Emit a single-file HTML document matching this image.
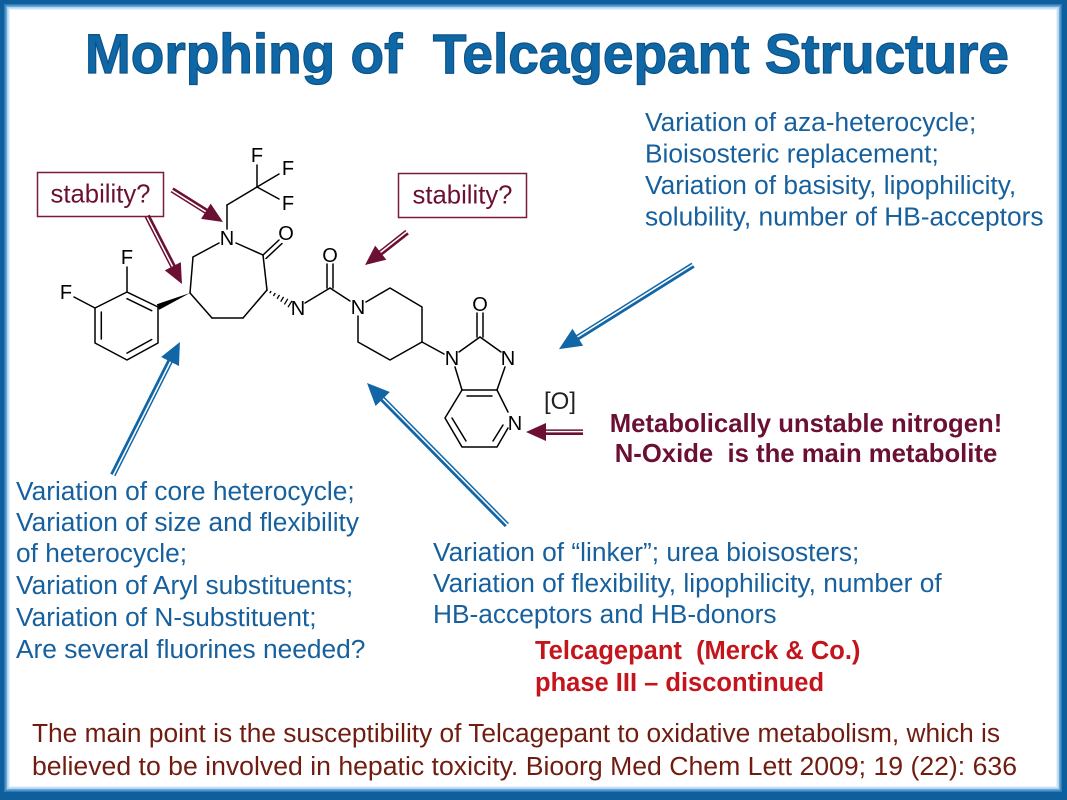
<!DOCTYPE html>
<html>
<head>
<meta charset="utf-8">
<style>
  html,body{margin:0;padding:0;background:#fff;}
  svg{display:block;}
  text{font-family:"Liberation Sans", Arial, sans-serif; white-space:pre;}
</style>
</head>
<body>
<svg width="1067" height="800" viewBox="0 0 1067 800" xmlns="http://www.w3.org/2000/svg" xml:space="preserve">
  <!-- frame -->
  <rect x="0" y="0" width="1067" height="800" fill="#0f5f9c"/>
  <rect x="4" y="4" width="1058" height="788" fill="#2f7cbc"/>
  <rect x="5.5" y="5.5" width="1055" height="785" fill="#6aa6d6"/>
  <rect x="7" y="7" width="1052" height="782" fill="#b3d4ee"/>
  <rect x="8.5" y="8.5" width="1049" height="779" fill="#e6f1fa"/>
  <rect x="10" y="10" width="1046" height="776" fill="#ffffff"/>

  <!-- title -->
  <text x="85" y="73" font-size="56" font-weight="bold" fill="#0f67a6" stroke="#0b5288" stroke-width="1.2" textLength="924" lengthAdjust="spacingAndGlyphs">Morphing of  Telcagepant Structure</text>

  <!-- right blue block -->
  <g font-size="26.3" fill="#17609e">
    <text x="645" y="131">Variation of aza-heterocycle;</text>
    <text x="645" y="162.5">Bioisosteric replacement;</text>
    <text x="645" y="194">Variation of basisity, lipophilicity,</text>
    <text x="645" y="225.5">solubility, number of HB-acceptors</text>
  </g>

  <!-- left blue block -->
  <g font-size="26.3" fill="#17609e">
    <text x="16" y="500">Variation of core heterocycle;</text>
    <text x="16" y="531">Variation of size and flexibility</text>
    <text x="16" y="562">of heterocycle;</text>
    <text x="16" y="594">Variation of Aryl substituents;</text>
    <text x="16" y="626">Variation of N-substituent;</text>
    <text x="16" y="658">Are several fluorines needed?</text>
  </g>

  <!-- middle blue block -->
  <g font-size="26.3" fill="#17609e">
    <text x="433" y="561">Variation of “linker”; urea bioisosters;</text>
    <text x="433" y="592">Variation of flexibility, lipophilicity, number of</text>
    <text x="433" y="623">HB-acceptors and HB-donors</text>
  </g>

  <!-- red -->
  <g font-size="25.5" font-weight="bold" fill="#c4141c">
    <text x="535" y="659">Telcagepant  (Merck &amp; Co.)</text>
    <text x="535" y="691">phase III – discontinued</text>
  </g>

  <!-- maroon bold -->
  <g font-size="25.7" font-weight="bold" fill="#6b1034" text-anchor="middle">
    <text x="806" y="432">Metabolically unstable nitrogen!</text>
    <text x="806" y="462">N-Oxide  is the main metabolite</text>
  </g>

  <!-- bottom text -->
  <g font-size="26.3" fill="#701c10">
    <text x="32" y="742" textLength="968" lengthAdjust="spacingAndGlyphs">The main point is the susceptibility of Telcagepant to oxidative metabolism, which is</text>
    <text x="32" y="775" textLength="985" lengthAdjust="spacingAndGlyphs">believed to be involved in hepatic toxicity. Bioorg Med Chem Lett 2009; 19 (22): 636</text>
  </g>

  <!-- stability boxes -->
  <rect x="37.5" y="172.5" width="126" height="44" fill="#fff" stroke="#7a1a3c" stroke-width="1.5"/>
  <text x="100.5" y="202.5" font-size="25.7" fill="#6b1034" text-anchor="middle">stability?</text>
  <rect x="398.5" y="173.5" width="128" height="44" fill="#fff" stroke="#7a1a3c" stroke-width="1.5"/>
  <text x="462.5" y="203.5" font-size="25.7" fill="#6b1034" text-anchor="middle">stability?</text>

  <!-- [O] -->
  <text x="560" y="409" font-size="24" fill="#222" text-anchor="middle">[O]</text>

  <!-- molecule bonds -->
  <g stroke="#000" stroke-width="1.5" fill="none" stroke-linecap="round" stroke-linejoin="round">
    <line x1="227" y1="229" x2="227" y2="205"/>
    <line x1="227" y1="205" x2="257" y2="187"/>
    <line x1="257" y1="187" x2="257" y2="165"/>
    <line x1="257" y1="187" x2="279" y2="174"/>
    <line x1="257" y1="187" x2="279" y2="199"/>
    <line x1="236" y1="243" x2="263" y2="255"/>
    <line x1="263" y1="255" x2="279" y2="240"/>
    <line x1="266" y1="258.5" x2="282" y2="243.5"/>
    <line x1="263" y1="255" x2="267" y2="290"/>
    <line x1="267" y1="290" x2="243" y2="318"/>
    <line x1="243" y1="318" x2="212" y2="318"/>
    <line x1="212" y1="318" x2="190" y2="293"/>
    <line x1="190" y1="293" x2="193" y2="257"/>
    <line x1="193" y1="257" x2="219" y2="243"/>
    <polyline points="158,307 127,292 95,308 95,343 127,360 158,343 158,307"/>
    <line x1="151.7" y1="310.7" x2="127" y2="298.7"/>
    <line x1="101.3" y1="312" x2="101.3" y2="339"/>
    <line x1="127" y1="353.1" x2="151.7" y2="339.5"/>
    <line x1="127" y1="292" x2="127" y2="267"/>
    <line x1="95" y1="308" x2="74" y2="297"/>
    <line x1="305" y1="303" x2="330" y2="288"/>
    <line x1="327" y1="288" x2="327" y2="264"/>
    <line x1="333" y1="288" x2="333" y2="264"/>
    <line x1="330" y1="288" x2="350" y2="301"/>
    <polyline points="366,302 390,288 422,307 422,342 390,360 358,342 358,316"/>
    <line x1="422" y1="342" x2="444" y2="354"/>
    <line x1="459" y1="352" x2="480" y2="337"/>
    <line x1="477" y1="337" x2="477" y2="313"/>
    <line x1="483" y1="337" x2="483" y2="313"/>
    <line x1="480" y1="337" x2="501" y2="352"/>
    <line x1="505" y1="367" x2="497" y2="390"/>
    <line x1="497" y1="390" x2="462" y2="390"/>
    <line x1="467" y1="396" x2="492" y2="396"/>
    <line x1="462" y1="390" x2="455" y2="367"/>
    <polyline points="462,390 445,418 462,447 497,447 508,428"/>
    <line x1="508" y1="412" x2="497" y2="390"/>
    <line x1="452" y1="418" x2="466" y2="441"/>
    <line x1="493" y1="441" x2="503" y2="425"/>
  </g>
  <polygon points="190,293 159.2,309.8 156.8,304.2" fill="#000"/>
  <g stroke="#000" stroke-width="1.3">
    <line x1="269.8" y1="293.2" x2="271.1" y2="291"/>
    <line x1="273.4" y1="296" x2="275.3" y2="293"/>
    <line x1="277.1" y1="298.8" x2="279.5" y2="294.9"/>
    <line x1="280.7" y1="301.6" x2="283.6" y2="296.9"/>
    <line x1="284.4" y1="304.4" x2="287.8" y2="298.8"/>
    <line x1="288" y1="307.2" x2="292" y2="300.8"/>
  </g>

  <!-- atom labels -->
  <g font-size="20" fill="#000" text-anchor="middle">
    <text x="257" y="162">F</text>
    <text x="288" y="175">F</text>
    <text x="288" y="210">F</text>
    <text x="227" y="245">N</text>
    <text x="286" y="240">O</text>
    <text x="127" y="264">F</text>
    <text x="66" y="299">F</text>
    <text x="298" y="315">N</text>
    <text x="330" y="262">O</text>
    <text x="358" y="314">N</text>
    <text x="480" y="311">O</text>
    <text x="452" y="365">N</text>
    <text x="508" y="365">N</text>
    <text x="515" y="430">N</text>
  </g>

  <!-- maroon arrows -->
  <g fill="#6b1034" stroke="#6b1034">
    <g transform="translate(172,190) rotate(32.1)">
      <line x1="0" y1="-1.7" x2="44" y2="-1.7" stroke-width="2.6"/>
      <line x1="0" y1="1.9" x2="44" y2="1.9" stroke-width="1.5"/>
      <polygon points="60.2,0 40,-9 40,9" stroke="none"/>
    </g>
    <g transform="translate(147,216) rotate(62.8)">
      <line x1="0" y1="-1.7" x2="60" y2="-1.7" stroke-width="2.6"/>
      <line x1="0" y1="1.9" x2="60" y2="1.9" stroke-width="1.5"/>
      <polygon points="76.5,0 56.5,-9 56.5,9" stroke="none"/>
    </g>
    <g transform="translate(407,232) rotate(141.8)">
      <line x1="0" y1="-1.7" x2="37" y2="-1.7" stroke-width="2.6"/>
      <line x1="0" y1="1.9" x2="37" y2="1.9" stroke-width="1.5"/>
      <polygon points="53.4,0 33.4,-9 33.4,9" stroke="none"/>
    </g>
    <g transform="translate(583,432) rotate(180)">
      <line x1="0" y1="-1.7" x2="41" y2="-1.7" stroke-width="2.6"/>
      <line x1="0" y1="1.9" x2="41" y2="1.9" stroke-width="1.5"/>
      <polygon points="57,0 37,-9 37,9" stroke="none"/>
    </g>
  </g>

  <!-- blue arrows -->
  <g fill="#1266a6" stroke="#1266a6">
    <g transform="translate(693,265) rotate(147.9)">
      <line x1="0" y1="-1.7" x2="140" y2="-1.7" stroke-width="2.8"/>
      <line x1="0" y1="2" x2="140" y2="2" stroke-width="1.5"/>
      <polygon points="158.2,0 136,-10 136,10" stroke="none"/>
    </g>
    <g transform="translate(113,475) rotate(-63.3)">
      <line x1="0" y1="-1.7" x2="131" y2="-1.7" stroke-width="2.8"/>
      <line x1="0" y1="2" x2="131" y2="2" stroke-width="1.5"/>
      <polygon points="148.9,0 127,-10 127,10" stroke="none"/>
    </g>
    <g transform="translate(507,525) rotate(-134.6)">
      <line x1="0" y1="-1.7" x2="181" y2="-1.7" stroke-width="2.8"/>
      <line x1="0" y1="2" x2="181" y2="2" stroke-width="1.5"/>
      <polygon points="199.4,0 177,-10 177,10" stroke="none"/>
    </g>
  </g>
</svg>
</body>
</html>
